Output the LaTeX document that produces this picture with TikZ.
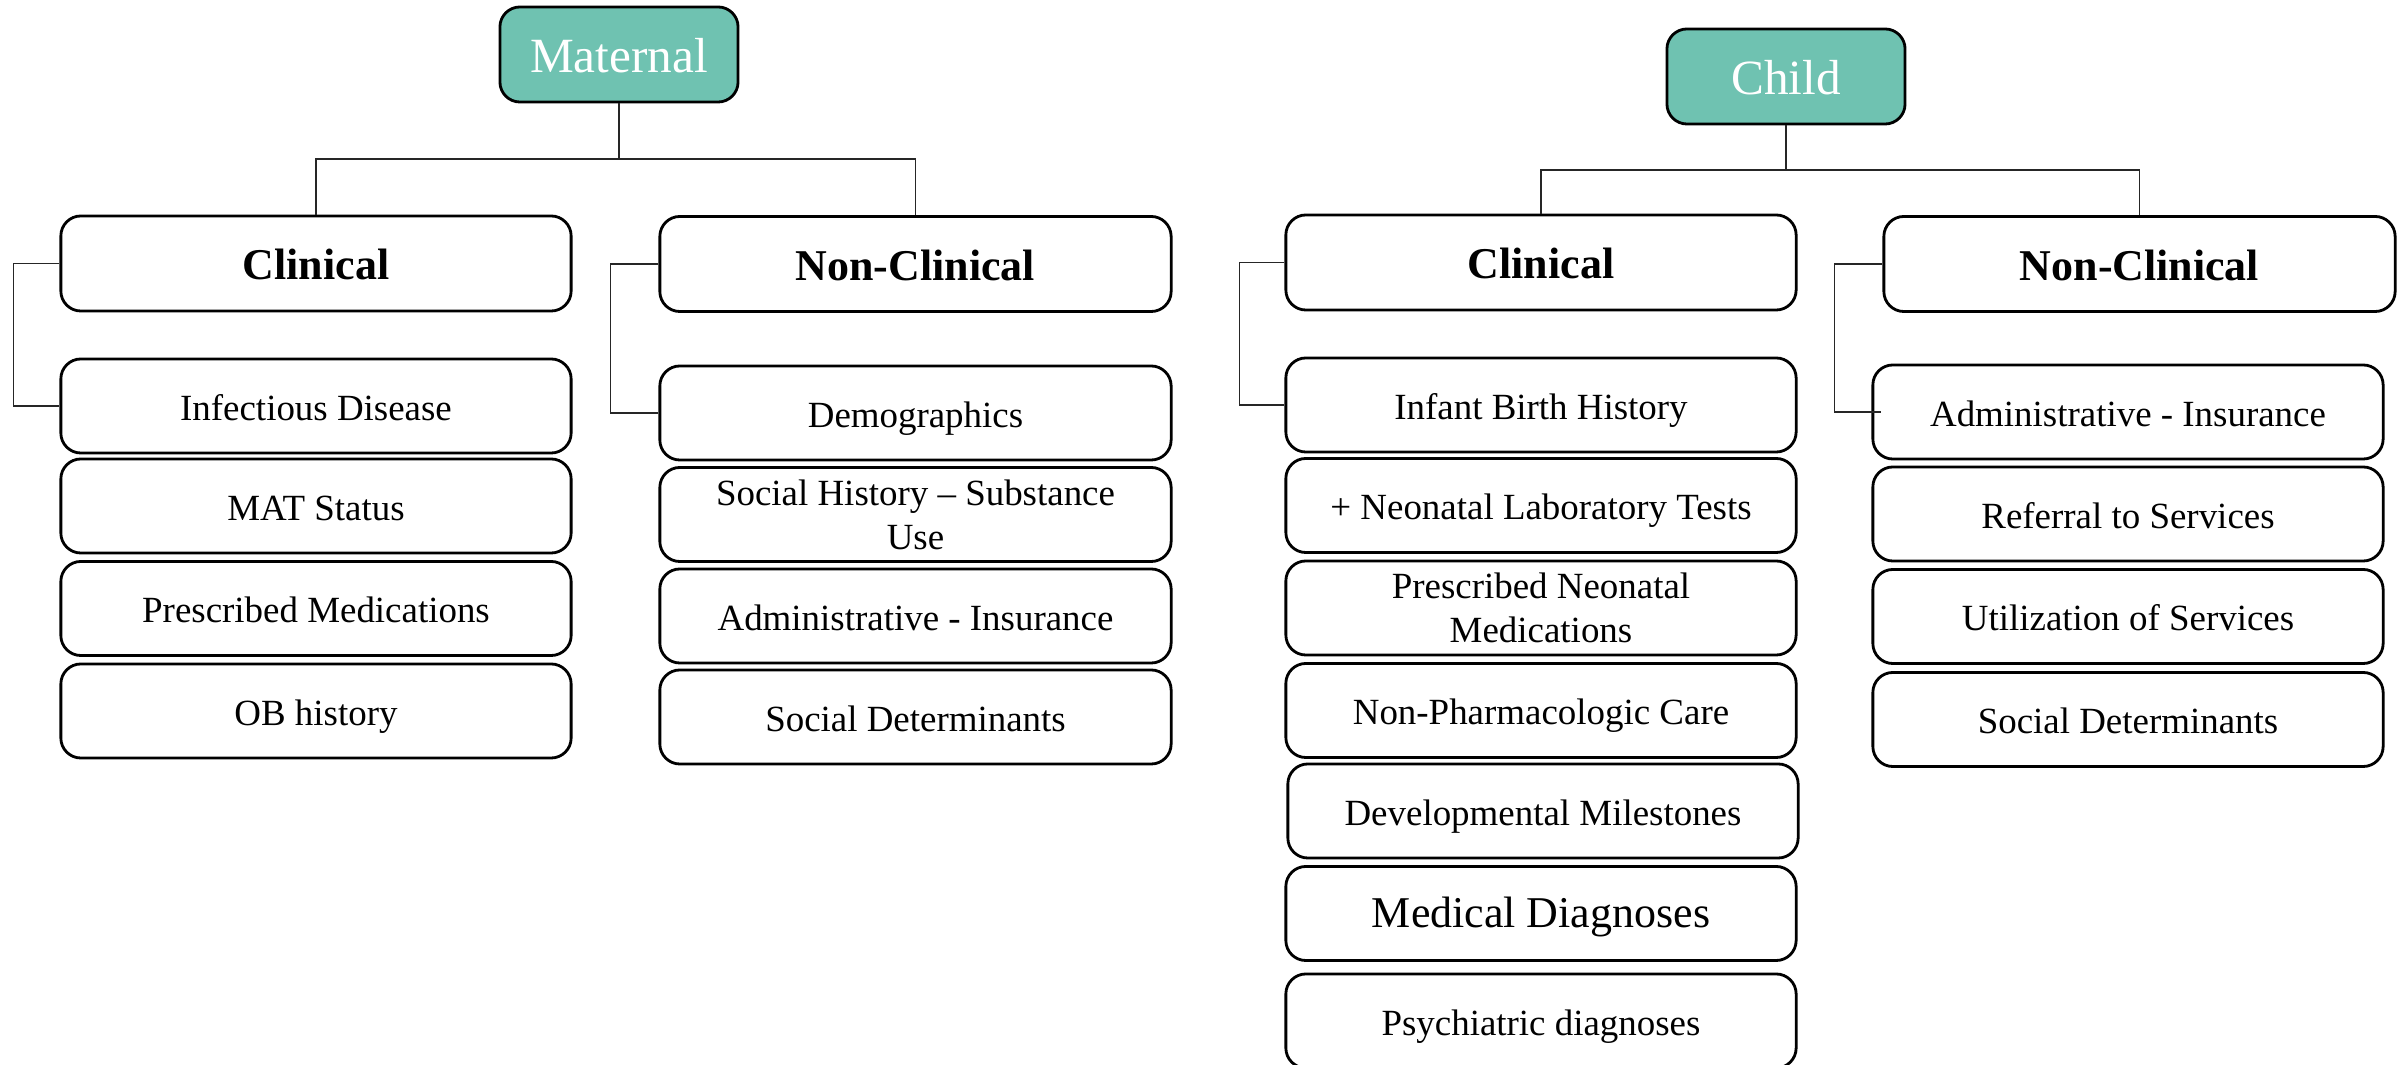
\documentclass[tikz,border=0pt]{standalone}
\usepackage{fontspec}
\setmainfont{Liberation Serif}
\definecolor{tealbox}{RGB}{111,194,177}
\begin{document}
\begin{tikzpicture}[x=0.01cm,y=-0.01cm,
  basebox/.style={draw=black, line width=0.8pt, rounded corners=0.2cm, fill=white,
    minimum width=5.1cm, minimum height=0.94cm, inner sep=2pt, align=center,
    font=\fontsize{10.5}{12.5}\selectfont},
  box/.style={basebox, text height=0.8em, text depth=0pt},
  twobox/.style={basebox},
  headbox/.style={basebox, text height=0.93em, text depth=0pt, minimum height=0.95cm,
    font=\fontsize{12.5}{15}\selectfont\bfseries},
  topbox/.style={basebox, text height=1.0em, text depth=0pt, fill=tealbox,
    minimum width=2.38cm, minimum height=0.95cm,
    text=white, font=\fontsize{14}{16}\selectfont},
  link/.style={draw=black!85, line width=0.45pt}]
\useasboundingbox (0,0) rectangle (2402,1065);

% ---------- Maternal ----------
\node[topbox] (mat) at (619,54.5) {Maternal};
\node[headbox] (mc) at (316,263.5) {Clinical};
\node[headbox, minimum width=5.11cm] (mnc) at (915.5,264) {Non-Clinical};

\node[box] (m1) at (316,406) {Infectious Disease};
\node[box] (m2) at (316,506) {MAT Status};
\node[box] (m3) at (316,608.5) {Prescribed Medications};
\node[box] (m4) at (316,711) {OB history};

\node[box, minimum width=5.11cm] (n1) at (915.5,413) {Demographics};
\node[twobox, minimum width=5.11cm] (n2) at (915.5,514.5) {Social History -- Substance\\Use};
\node[box, minimum width=5.11cm] (n3) at (915.5,616) {Administrative - Insurance};
\node[box, minimum width=5.11cm] (n4) at (915.5,717) {Social Determinants};

\coordinate (mj) at (619,159);
\draw[link] (mat.south) -- (mj);
\draw[link] (mj) -| (mc.north);
\draw[link] (mj) -| (mnc.north);
\draw[link] (mc.west) -- ++(-46,0) |- (m1.west);
\draw[link] (mnc.west) -- ++(-48,0) |- (n1.west);

% ---------- Child ----------
\node[topbox] (chd) at (1786,76.5) {Child};
\node[headbox] (cc) at (1541,262.5) {Clinical};
\node[headbox, minimum width=5.11cm] (cnc) at (2139.5,264) {Non-Clinical};

\node[box] (c1) at (1541,405) {Infant Birth History};
\node[box] (c2) at (1541,505.5) {+ Neonatal Laboratory Tests};
\node[twobox] (c3) at (1541,608) {Prescribed Neonatal\\Medications};
\node[box] (c4) at (1541,710.5) {Non-Pharmacologic Care};
\node[box] (c5) at (1543,811) {Developmental Milestones};
\node[box, font=\fontsize{12.5}{15}\selectfont] (c6) at (1541,913.5) {Medical Diagnoses};
\node[box] (c7) at (1541,1021) {Psychiatric diagnoses};

\node[box] (d1) at (2128,412) {Administrative - Insurance};
\node[box] (d2) at (2128,514) {Referral to Services};
\node[box] (d3) at (2128,616.5) {Utilization of Services};
\node[box] (d4) at (2128,719.5) {Social Determinants};

\coordinate (cj) at (1786,170);
\draw[link] (chd.south) -- (cj);
\draw[link] (cj) -| (cc.north);
\draw[link] (cj) -| (cnc.north);
\draw[link] (cc.west) -- ++(-45,0) |- (c1.west);
\draw[link] (cnc.west) -- ++(-48,0) |- ([xshift=0.1cm]d1.west);
\end{tikzpicture}
\end{document}
